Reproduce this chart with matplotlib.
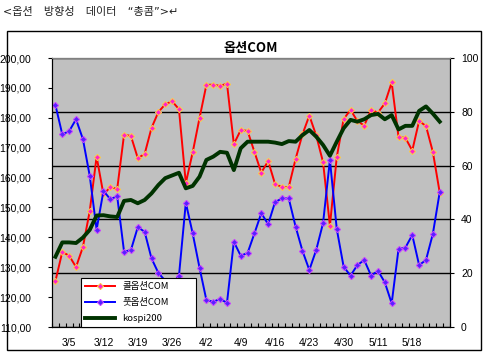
import matplotlib
matplotlib.use("Agg")
import matplotlib.pyplot as plt
from matplotlib.patches import Rectangle
from matplotlib.lines import Line2D

plt.rcParams['font.family'] = ['Liberation Sans', 'Noto Sans CJK KR', 'DejaVu Sans']

# 콜옵션COM / 풋옵션COM (right axis, %), kospi200 (left axis)
call_com = [17.1, 27.9, 26.5, 22.3, 29.7, 43.1, 63.3, 49.3, 52.0, 51.3,
            71.5, 71.0, 62.8, 64.3, 74.0, 79.9, 82.8, 83.9, 81.0, 53.5,
            64.9, 77.7, 90.0, 90.1, 89.6, 90.5, 68.0, 73.2, 72.9, 65.1,
            57.4, 61.7, 53.2, 52.0, 52.0, 62.5, 71.6, 78.6, 71.2, 61.3,
            37.7, 63.2, 77.3, 80.7, 76.6, 74.9, 80.7, 79.7, 83.1, 90.9,
            70.6, 70.3, 65.6, 76.6, 74.7, 65.1, 50.0]
put_com = [82.5, 71.6, 72.8, 77.2, 69.9, 56.2, 36.2, 50.6, 47.5, 48.6,
           28.0, 28.6, 37.1, 35.4, 25.5, 20.1, 17.2, 16.1, 19.0, 46.2,
           34.8, 22.0, 10.0, 9.4, 10.4, 9.0, 31.7, 26.5, 27.5, 34.8,
           42.3, 38.2, 46.4, 47.8, 47.8, 37.3, 28.3, 21.2, 28.6, 38.6,
           62.1, 36.4, 22.4, 19.1, 23.0, 24.9, 19.1, 20.9, 16.6, 8.8,
           29.0, 29.5, 34.2, 23.0, 24.9, 34.6, 50.1]
kospi200 = [133.5, 138.3, 138.3, 138.1, 139.9, 142.5, 147.3, 147.4, 147.0, 146.8,
            152.2, 152.5, 151.4, 152.5, 154.7, 157.5, 159.8, 160.7, 161.6, 156.4,
            157.2, 160.3, 165.9, 167.0, 168.6, 168.3, 162.5, 169.8, 172.0, 172.0,
            172.0, 172.0, 171.7, 171.2, 172.2, 172.0, 174.2, 175.9, 173.7, 170.9,
            167.3, 172.0, 176.5, 179.3, 178.7, 179.5, 180.9, 181.3, 179.5, 180.9,
            176.1, 177.3, 177.3, 182.3, 183.8, 181.4, 178.7]

n_categories = 58
date_labels = ['3/5', '3/12', '3/19', '3/26', '4/2', '4/9', '4/16', '4/23', '4/30', '5/11', '5/18']
date_idx = list(range(2, 57, 5))
left_ticks = [110, 120, 130, 140, 150, 160, 170, 180, 190, 200]
right_ticks = [0, 20, 40, 60, 80, 100]

CJK = ['Noto Sans CJK KR', 'DejaVu Sans']


def main():
    fig = plt.figure(figsize=(4.86, 3.57), dpi=100)
    fig.patches.append(Rectangle((7 / 486, 1 - 350 / 357), 474 / 486, 319 / 357,
                                 transform=fig.transFigure, fill=False,
                                 edgecolor='black', linewidth=1.0))
    # latin signs from DejaVu, hangul falls through to Noto CJK
    fig.text(0.006, 1 - 12 / 357, '<옵션\u3000방향성\u3000데이터\u3000“총콤”>↵',
             fontsize=8, va='center', ha='left', color='#222222',
             family=['DejaVu Sans', 'Noto Sans CJK KR'])

    ax = fig.add_axes([52 / 486, 1 - 327 / 357, 398 / 486, 269 / 357])
    ax2 = ax.twinx()
    ax.set_zorder(ax2.get_zorder() + 1)
    ax.patch.set_visible(False)
    ax2.patch.set_visible(True)
    ax2.patch.set_facecolor('#c0c0c0')

    call_style = dict(color='#ff0000', lw=1.4, marker='D', ms=3.2,
                      mfc='#ff22cc', mec='#ffcc44', mew=0.7)
    put_style = dict(color='#0000ff', lw=1.4, marker='D', ms=3.2,
                     mfc='#5522ff', mec='#cc44ff', mew=0.7)
    k_style = dict(color='#003300', lw=2.8)

    x = list(range(len(call_com)))
    ax2.plot(x, call_com, **call_style)
    ax2.plot(x, put_com, **put_style)
    ax.plot(x, kospi200, **k_style)

    ax.set_xlim(-0.5, n_categories - 0.5)
    ax.set_ylim(110, 200)
    ax2.set_ylim(0, 100)

    ax.set_yticks(left_ticks)
    ax.set_yticklabels([f'{v:.2f}'.replace('.', ',') for v in left_ticks])
    ax2.set_yticks(right_ticks)
    ax2.set_yticklabels([str(v) for v in right_ticks])
    ax2.yaxis.grid(True, color='black', lw=1.0)

    ax.set_xticks(date_idx)
    ax.set_xticklabels(date_labels)
    ax.set_xticks([i - 0.5 for i in range(n_categories + 1)], minor=True)
    ax.tick_params(axis='x', which='major', length=0, pad=8, labelsize=7.5)
    ax.tick_params(axis='x', which='minor', direction='in', length=3, width=0.8)
    ax.tick_params(axis='y', length=3, width=0.8, pad=12, labelsize=7.5)
    ax2.tick_params(axis='y', length=3, width=0.8, pad=5, labelsize=7.5)

    for a in (ax, ax2):
        for s in a.spines.values():
            s.set_color('black')
            s.set_linewidth(0.8)
    ax.spines['top'].set_color('#808080')

    ax.set_title('옵션COM', fontsize=9.5, fontweight='bold', pad=4, family=CJK)

    handles = [Line2D([], [], **call_style), Line2D([], [], **put_style),
               Line2D([], [], **k_style)]
    leg = ax.legend(handles, ['콜옵션COM', '풋옵션COM', 'kospi200'],
                    loc='lower left', bbox_to_anchor=(0.073, 0.0, 0.289, 0.23),
                    mode='expand', fancybox=False, framealpha=1, edgecolor='black',
                    borderaxespad=0, handlelength=3.2, labelspacing=0.75,
                    prop={'family': CJK, 'size': 6.8})
    leg.get_frame().set_linewidth(0.8)

    fig.savefig('out.png', dpi=100)


if __name__ == '__main__':
    main()
